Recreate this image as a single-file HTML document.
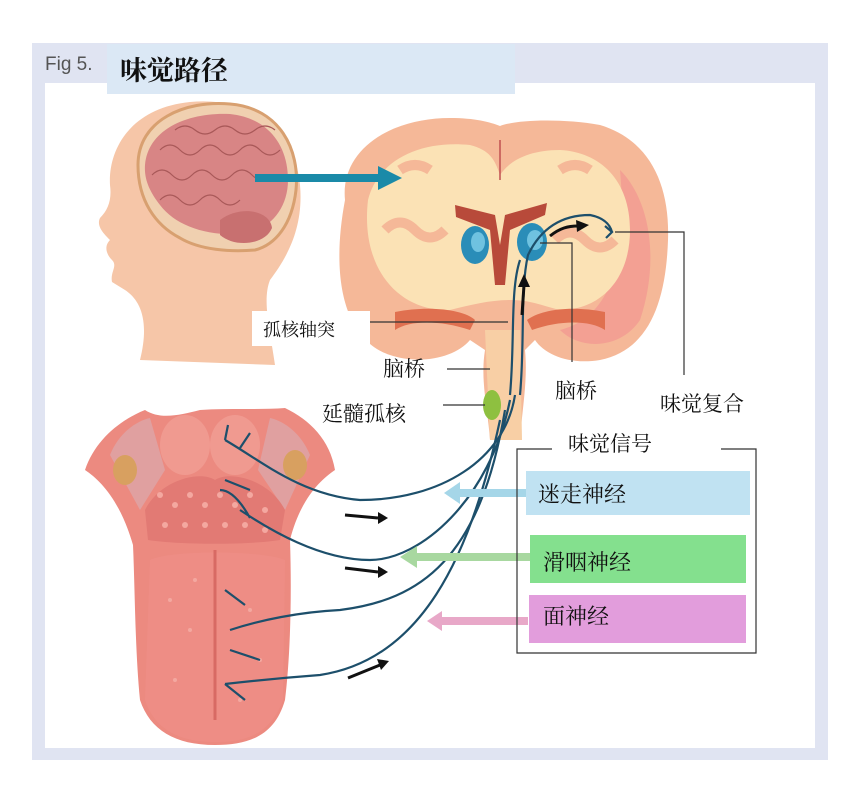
<!DOCTYPE html>
<html><head><meta charset="utf-8"><style>
html,body{margin:0;padding:0;background:#fff;}
body{width:852px;height:795px;position:relative;overflow:hidden;font-family:"Liberation Sans","Noto Sans CJK SC",sans-serif;}
svg{position:absolute;left:0;top:0;}
</style></head><body>
<svg width="852" height="795" viewBox="0 0 852 795" xmlns="http://www.w3.org/2000/svg">
<rect x="32" y="43" width="796" height="717" fill="#e0e4f2"/>
<rect x="45" y="83" width="770" height="665" fill="#fff"/>
<rect x="107" y="44" width="408" height="50" fill="#dbe8f5"/>
<text x="45" y="70" font-size="19" fill="#555" font-family="Liberation Sans, sans-serif">Fig 5.</text>
<text x="120" y="80" font-size="27" font-weight="bold" fill="#111" font-family="Liberation Serif, Noto Serif CJK SC, serif">味觉路径</text>

<!-- head -->
<path d="M140,360 C150,320 140,300 125,290 L112,282 C110,272 118,266 112,260 C106,254 104,246 110,240 C104,234 96,226 100,218 C108,210 112,200 110,185 C108,150 130,108 190,102 C250,96 295,130 300,185 C304,230 285,260 270,280 C262,300 270,330 275,365 Z" fill="#f6c6a8"/>
<path d="M138,165 C138,120 185,100 230,104 C280,108 300,150 296,190 C292,225 275,245 255,250 C230,252 200,250 180,238 C155,225 138,200 138,165 Z" fill="#f0d0b0" stroke="#d8a070" stroke-width="3"/>
<path d="M145,165 C148,128 190,112 230,114 C268,118 288,145 288,180 C288,210 268,232 240,234 C205,236 175,225 160,205 C150,192 144,180 145,165 Z" fill="#d88585"/>
<path d="M220,220 C240,205 270,210 272,228 C265,245 235,248 220,235 Z" fill="#c87070"/>
<g stroke="#a85858" stroke-width="1.2" fill="none">
<path d="M160,150 q10,-10 20,0 t20,0 t20,0 t20,0 t20,0 t20,0"/><path d="M152,175 q10,-10 20,0 t20,0 t20,0 t20,0 t20,0 t20,0"/><path d="M160,200 q10,-10 20,0 t20,0 t20,0 t20,0"/><path d="M175,130 q10,-8 20,0 t20,0 t20,0 t20,0 t20,0"/>
</g>

<!-- brain coronal -->
<path d="M345,200 C340,150 390,118 450,118 C475,118 490,122 500,126 C515,120 560,118 600,125 C650,140 670,185 668,240 C666,300 650,350 600,360 C570,365 545,355 535,340 L525,350 C528,380 522,410 520,440 L490,440 C488,410 480,380 485,350 L470,340 C455,358 420,365 390,355 C345,340 330,280 345,200 Z" fill="#f5b898"/>
<path d="M620,170 C650,200 660,260 640,320 C620,350 580,350 560,330 C600,320 630,280 620,170 Z" fill="#f29090" opacity="0.6"/>
<path d="M368,200 C378,160 420,140 470,145 C490,150 495,160 500,175 C510,160 530,150 560,150 C600,152 630,180 630,230 C630,280 600,310 560,310 C540,305 530,300 510,300 C490,300 470,305 450,310 C400,312 360,270 368,200 Z" fill="#fbe2b5"/>
<path d="M385,230 q15,-15 30,0 t30,0 M555,240 q15,-15 30,0 t30,0 M400,170 q15,-10 30,0 M560,170 q15,-10 30,0" stroke="#f5b898" stroke-width="10" fill="none"/>
<path d="M500,140 L500,180" stroke="#c05050" stroke-width="1.5"/>
<path d="M455,205 L495,215 L500,245 L505,215 L547,203 L545,215 L510,230 L505,285 L495,285 L490,230 L456,217 Z" fill="#b84a3a"/>
<path d="M395,312 C430,305 465,310 475,320 L470,330 C440,320 410,320 395,330 Z M605,312 C570,305 540,310 527,320 L532,330 C560,320 590,320 605,330 Z" fill="#e07050"/>
<path d="M485,330 L520,330 L522,440 L490,440 Z" fill="#f8cfa5"/>
<ellipse cx="475" cy="245" rx="14" ry="19" fill="#2a8db8"/><ellipse cx="478" cy="242" rx="7" ry="10" fill="#6fc2e0"/>
<ellipse cx="532" cy="242" rx="15" ry="19" fill="#2a8db8"/><ellipse cx="535" cy="240" rx="8" ry="10" fill="#6fc2e0"/>
<ellipse cx="492" cy="405" rx="9" ry="15" fill="#8ec040"/>

<!-- big arrow -->
<rect x="255" y="174" width="125" height="8" fill="#1a8aa8"/>
<polygon points="378,166 402,178 378,190" fill="#1a8aa8"/>

<!-- tongue -->
<path d="M85,470 C95,440 120,420 145,410 C160,420 180,415 200,410 C230,408 260,410 285,408 C310,420 330,440 335,470 C320,480 300,500 290,540 C292,600 290,660 285,700 C275,735 250,745 215,745 C175,745 150,730 140,700 C135,650 135,590 133,545 C120,500 100,480 85,470 Z" fill="#ec8a80"/>
<path d="M110,455 C120,430 140,420 150,418 L165,470 L140,510 Z M310,455 C300,430 280,420 270,418 L258,470 L285,510 Z" fill="#e0a0a0"/>
<ellipse cx="125" cy="470" rx="12" ry="15" fill="#d8a060"/><ellipse cx="295" cy="465" rx="12" ry="15" fill="#d8a060"/>
<ellipse cx="185" cy="445" rx="25" ry="30" fill="#f09a90"/><ellipse cx="235" cy="445" rx="25" ry="30" fill="#f09a90"/>
<path d="M145,510 C160,480 200,470 215,480 C230,470 270,480 285,510 L280,540 C250,545 180,545 148,540 Z" fill="#e27a74"/>
<path d="M150,560 C170,550 260,550 285,560 L283,700 C270,735 245,742 215,742 C180,742 155,730 145,700 Z" fill="#f09088" opacity="0.6"/>
<path d="M215,550 L215,720" stroke="#d86a64" stroke-width="3"/>
<g fill="#f4a8a0">
<circle cx="160" cy="495" r="3"/><circle cx="175" cy="505" r="3"/><circle cx="190" cy="495" r="3"/><circle cx="205" cy="505" r="3"/><circle cx="220" cy="495" r="3"/><circle cx="235" cy="505" r="3"/><circle cx="250" cy="495" r="3"/><circle cx="265" cy="510" r="3"/><circle cx="165" cy="525" r="3"/><circle cx="185" cy="525" r="3"/><circle cx="205" cy="525" r="3"/><circle cx="225" cy="525" r="3"/><circle cx="245" cy="525" r="3"/><circle cx="265" cy="530" r="3"/>
<circle cx="170" cy="600" r="2"/><circle cx="190" cy="630" r="2"/><circle cx="250" cy="610" r="2"/><circle cx="260" cy="660" r="2"/><circle cx="175" cy="680" r="2"/><circle cx="240" cy="700" r="2"/><circle cx="195" cy="580" r="2"/>
</g>

<!-- nerves -->
<g stroke="#1d4f6b" stroke-width="2.2" fill="none">
<path d="M520,395 C525,340 520,290 528,255 C540,230 560,215 590,215 C605,218 610,225 612,232"/>
<path d="M510,395 C515,340 510,290 520,260"/>
<path d="M605,226 L612,232 L606,238"/>
<path d="M515,395 C505,460 440,500 360,500 C300,495 260,460 225,440"/>
<path d="M510,400 C490,500 420,560 370,560 C320,560 270,530 240,510 M250,518 C240,500 230,490 220,490"/>
<path d="M505,410 C480,560 420,600 340,610 C300,612 260,620 230,630"/>
<path d="M500,420 C470,560 420,660 320,675 C280,678 260,680 225,684"/>
<path d="M225,440 L228,425 M240,448 L250,433 M225,480 L250,490 M225,590 L245,605 M230,650 L260,660 M225,684 L245,700"/>
</g>
<g fill="#111" stroke="#111">
<path d="M345,515 L378,518" stroke-width="3"/><polygon points="378,512 388,518 378,524" stroke="none"/>
<path d="M345,568 L378,572" stroke-width="3"/><polygon points="378,566 388,572 378,578" stroke="none"/>
<path d="M348,678 L380,665" stroke-width="3"/><polygon points="377,659 389,661 381,670" stroke="none"/>
<path d="M522,315 L524,285" stroke-width="3"/><polygon points="518,287 524,274 530,287" stroke="none"/>
<path d="M550,236 C560,228 568,226 578,226" stroke-width="3" fill="none"/><polygon points="576,220 589,225 577,232" stroke="none"/>
</g>

<!-- colored arrows -->
<rect x="458" y="489" width="70" height="8" fill="#a5d6e8"/><polygon points="460,482 444,493 460,504" fill="#a5d6e8"/>
<rect x="415" y="553" width="115" height="8" fill="#a8d8a0"/><polygon points="417,546 400,557 417,568" fill="#a8d8a0"/>
<rect x="440" y="617" width="88" height="8" fill="#e8a8c8"/><polygon points="442,611 427,621 442,631" fill="#e8a8c8"/>

<!-- leader lines -->
<g stroke="#333" stroke-width="1.2" fill="none">
<path d="M370,322 L508,322"/><path d="M447,369 L490,369"/><path d="M443,405 L485,405"/>
<path d="M540,243 L572,243 L572,362"/><path d="M615,232 L684,232 L684,375"/>
<path d="M552,449 L517,449 L517,653 L756,653 L756,449 L721,449"/>
</g>
<rect x="252" y="311" width="118" height="35" fill="#fff"/>
<g font-family="Liberation Serif, Noto Serif CJK SC, serif" fill="#111">
<text x="263" y="336" font-size="18">孤核轴突</text>
<text x="383" y="376" font-size="21">脑桥</text>
<text x="322" y="421" font-size="21">延髓孤核</text>
<text x="555" y="398" font-size="21">脑桥</text>
<text x="660" y="411" font-size="21">味觉复合</text>
<text x="568" y="451" font-size="21">味觉信号</text>
</g>
<rect x="526" y="471" width="224" height="44" fill="#c0e2f2"/>
<rect x="530" y="535" width="216" height="48" fill="#84e08e"/>
<rect x="529" y="595" width="217" height="48" fill="#e29ddc"/>
<g font-family="Liberation Serif, Noto Serif CJK SC, serif" fill="#111" font-size="22">
<text x="538" y="502">迷走神经</text>
<text x="543" y="570">滑咽神经</text>
<text x="543" y="624">面神经</text>
</g>
</svg>
</body></html>
